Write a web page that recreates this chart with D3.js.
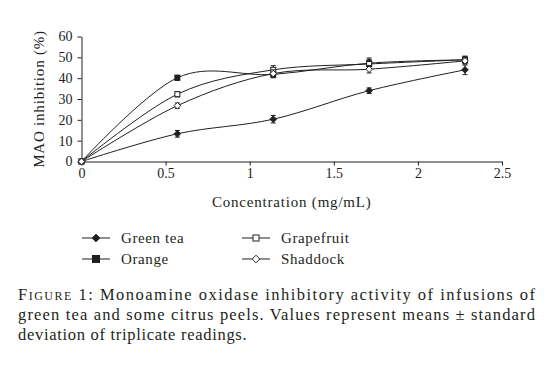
<!DOCTYPE html>
<html>
<head>
<meta charset="utf-8">
<script src="https://cdn.jsdelivr.net/npm/d3@7"></script>
<style>
  body { margin: 0; background: #fff; }
  svg text { font-family: "Liberation Serif", "Times New Roman", serif !important; fill: #231f20; }
</style>
</head>
<body>
<div id="chart"></div>
<script>
// concentrations (mg/mL)
const conc = [0, 0.57, 1.14, 1.71, 2.28];
// series: mean inhibition (%) and sd
const greenTea = [0, 13.3, 20.3, 34.0, 44.0];
const greenTeaSd = [0, 1.6, 1.8, 1.3, 2.3];
const orange = [0, 40.2, 41.8, 47.2, 48.8];
const orangeSd = [0, 1.2, 1.6, 2.5, 1.5];
const grapefruit = [0, 32.3, 44.0, 46.8, 48.8];
const grapefruitSd = [0, 1.3, 2.0, 2.2, 1.8];
const shaddock = [0, 26.8, 42.2, 44.3, 48.3];
const shaddockSd = [0, 1.3, 1.8, 1.8, 1.5];
const xTicks = [0, 0.5, 1, 1.5, 2, 2.5];
const yTicks = [0, 10, 20, 30, 40, 50, 60];

const series = [
  { name: "Green tea", values: greenTea, sd: greenTeaSd, shape: "diamond", filled: true },
  { name: "Orange", values: orange, sd: orangeSd, shape: "square", filled: true },
  { name: "Grapefruit", values: grapefruit, sd: grapefruitSd, shape: "square", filled: false },
  { name: "Shaddock", values: shaddock, sd: shaddockSd, shape: "diamond", filled: false }
];

const width = 552, height = 370;
const svg = d3.select("#chart").append("svg")
  .attr("width", width).attr("height", height)
  .attr("font-family", "Liberation Serif, serif");

const x = d3.scaleLinear().domain([0, 2.5]).range([81.5, 502]);
const y = d3.scaleLinear().domain([0, 60]).range([161.5, 36.5]);
const ink = "#231f20";

// axes
const xAxis = svg.append("g")
  .attr("transform", `translate(0,${y(0)})`)
  .call(d3.axisBottom(x).tickValues(xTicks).tickFormat(d3.format("")).tickSize(4).tickSizeOuter(0).tickPadding(3));
const yAxis = svg.append("g")
  .attr("transform", `translate(${x(0)},0)`)
  .call(d3.axisLeft(y).tickValues(yTicks).tickSize(4).tickSizeOuter(0).tickPadding(5));
[xAxis, yAxis].forEach(a => {
  a.attr("font-family", null);
  a.selectAll("path, line").attr("stroke", ink);
  a.selectAll("text").style("font-size", "14px").attr("fill", ink);
});

svg.append("text")
  .attr("x", (x(0) + x(2.5)) / 2).attr("y", 207)
  .attr("text-anchor", "middle").style("font-size", "15px").style("letter-spacing", "0.8px")
  .text("Concentration (mg/mL)");
svg.append("text")
  .attr("transform", `translate(44,${(y(0) + y(60)) / 2}) rotate(-90)`)
  .attr("text-anchor", "middle").style("font-size", "15px").style("letter-spacing", "0.8px")
  .text("MAO inhibition (%)");

// lines (Excel-style smoothing)
const line = d3.line()
  .x((d, i) => x(conc[i]))
  .y(d => y(d))
  .curve(d3.curveCardinal.tension(0));

function marker(g, shape, filled, size) {
  if (shape === "square") {
    g.append("rect")
      .attr("x", -size / 2).attr("y", -size / 2)
      .attr("width", size).attr("height", size)
      .attr("fill", filled ? ink : "#fff").attr("stroke", ink).attr("stroke-width", 1);
  } else {
    const r = size / 2 + 0.8;
    g.append("path")
      .attr("d", `M0,${-r}L${r},0L0,${r}L${-r},0Z`)
      .attr("fill", filled ? ink : "#fff").attr("stroke", ink).attr("stroke-width", 1);
  }
}

series.forEach(s => {
  svg.append("path")
    .datum(s.values)
    .attr("d", line)
    .attr("fill", "none").attr("stroke", ink).attr("stroke-width", 1);

  // error bars
  s.values.forEach((v, i) => {
    if (!s.sd[i]) return;
    const eb = svg.append("g").attr("stroke", ink).attr("stroke-width", 1);
    const cx = x(conc[i]);
    eb.append("line").attr("x1", cx).attr("x2", cx).attr("y1", y(v - s.sd[i])).attr("y2", y(v + s.sd[i]));
    eb.append("line").attr("x1", cx - 2.5).attr("x2", cx + 2.5).attr("y1", y(v - s.sd[i])).attr("y2", y(v - s.sd[i]));
    eb.append("line").attr("x1", cx - 2.5).attr("x2", cx + 2.5).attr("y1", y(v + s.sd[i])).attr("y2", y(v + s.sd[i]));
  });

  s.values.forEach((v, i) => {
    const g = svg.append("g").attr("transform", `translate(${x(conc[i])},${y(v)})`);
    marker(g, s.shape, s.filled, 5);
  });
});

// legend
const legendPos = [[82, 238], [82, 259], [242, 238], [242, 259]];
series.forEach((s, i) => {
  const [lx, ly] = legendPos[i];
  const g = svg.append("g").attr("transform", `translate(${lx},${ly})`);
  g.append("line").attr("x1", 0).attr("x2", 28).attr("y1", 0).attr("y2", 0)
    .attr("stroke", ink).attr("stroke-width", 1);
  const m = g.append("g").attr("transform", "translate(14,0)");
  marker(m, s.shape, s.filled, s.filled && s.shape === "square" ? 7 : 6);
  g.append("text").attr("x", 39).attr("y", 5)
    .style("font-size", "15px").style("letter-spacing", "0.6px").text(s.name);
});

// caption
const cap = svg.append("g").style("font-size", "16.5px");
const l1 = cap.append("text").attr("x", 18).attr("y", 300)
  .attr("textLength", 517).attr("lengthAdjust", "spacing");
l1.append("tspan").style("font-variant", "small-caps").text("Figure 1");
l1.append("tspan").text(": Monoamine oxidase inhibitory activity of infusions of");
cap.append("text").attr("x", 18).attr("y", 320)
  .attr("textLength", 517).attr("lengthAdjust", "spacing")
  .text("green tea and some citrus peels. Values represent means \u00b1 standard");
cap.append("text").attr("x", 18).attr("y", 340).style("letter-spacing", "0.7px")
  .text("deviation of triplicate readings.");
</script>
</body>
</html>
